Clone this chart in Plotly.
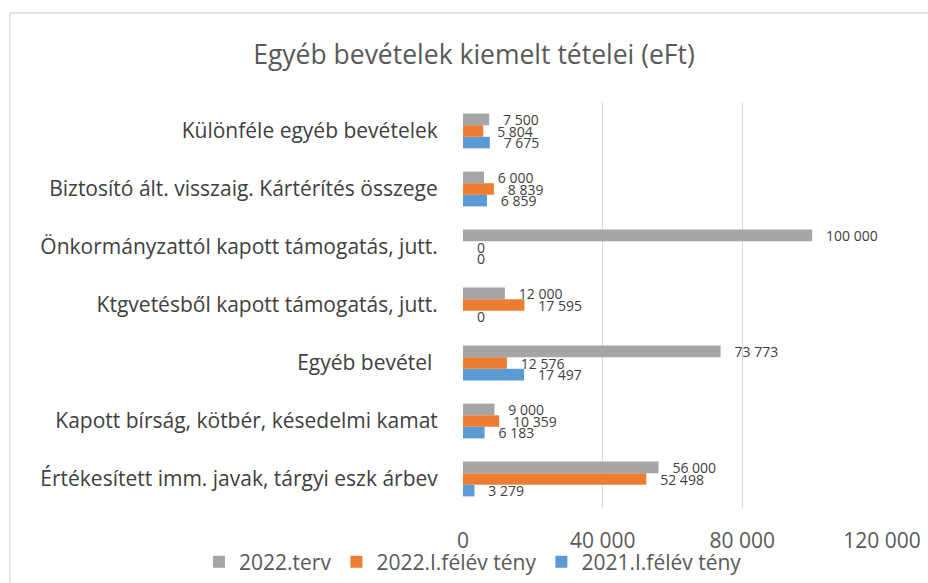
import plotly.graph_objects as go

# categories listed bottom-to-top (as drawn on the category axis)
categories = [
    "Értékesített imm. javak, tárgyi eszk árbev",
    "Kapott bírság, kötbér, késedelmi kamat",
    "Egyéb bevétel ",
    "Ktgvetésből kapott támogatás, jutt.",
    "Önkormányzattól kapott támogatás, jutt.",
    "Biztosító ált. visszaig. Kártérítés összege",
    "Különféle egyéb bevételek",
]
terv_2022 = [56000, 9000, 73773, 12000, 100000, 6000, 7500]
felev_2022 = [52498, 10359, 12576, 17595, 0, 8839, 5804]
felev_2021 = [3279, 6183, 17497, 0, 0, 6859, 7675]

series_names = ["2021.I.félév tény", "2022.I.félév tény", "2022.terv"]
series_values = [felev_2021, felev_2022, terv_2022]
series_colors = ["#5B9BD5", "#ED7D31", "#A5A5A5"]
x_ticks = [0, 40000, 80000, 120000]

FONT = "'Open Sans', sans-serif"
NB = "\u00a0"

L, R, T, B = 463, 46, 102, 75
W, H = 928, 583
PW, PH = W - L - R, H - T - B

fig = go.Figure()
for name, vals, col in zip(series_names, series_values, series_colors):
    fig.add_trace(go.Bar(
        y=categories, x=vals, name=name, orientation="h",
        marker=dict(color=col, line=dict(width=0)),
        texttemplate=NB * 3 + "%{x:,}", textposition="outside", textangle=0,
        constraintext="none", cliponaxis=False,
        textfont=dict(size=14, color="#404040", family=FONT),
    ))

fig.update_layout(
    width=W, height=H,
    paper_bgcolor="white", plot_bgcolor="white",
    separators=", ",
    barmode="group", bargap=0.4, bargroupgap=0,
    margin=dict(l=L, r=R, t=T, b=B, autoexpand=False),
    font=dict(family=FONT, color="#595959"),
    title=dict(text="Egyéb bevételek kiemelt tételei (eFt)",
               x=474 / W, xref="container", xanchor="center",
               y=1 - 55 / H, yref="container", yanchor="middle",
               font=dict(size=26.5, color="#595959", family=FONT)),
    xaxis=dict(range=[0, 120000], tickvals=x_ticks, tickformat=",",
               showgrid=True, gridcolor="#D9D9D9", gridwidth=1.3,
               zeroline=False, showline=False,
               ticks="outside", ticklen=14, tickcolor="rgba(0,0,0,0)",
               tickfont=dict(size=21, color="#595959", family=FONT)),
    yaxis=dict(showgrid=False, zeroline=False, showline=False,
               ticks="outside", ticklen=20, tickcolor="rgba(0,0,0,0)",
               tickfont=dict(size=21, color="#404040", family=FONT)),
    legend=dict(orientation="h", traceorder="reversed",
                x=(199 - L) / PW, xanchor="left",
                y=(H - B - 562) / PH, yanchor="middle",
                font=dict(size=21, color="#595959", family=FONT),
                itemwidth=30, bgcolor="rgba(0,0,0,0)"),
    shapes=[dict(type="rect", xref="paper", yref="paper",
                 x0=(10 - L) / PW, x1=(W + 20 - L) / PW,
                 y0=-(B + 20) / PH, y1=1 + (T - 13) / PH,
                 line=dict(color="#D9D9D9", width=1.3), layer="below")],
)

fig.write_html("out.html", config={"displayModeBar": False},
               post_script="document.body.style.margin='0';")
